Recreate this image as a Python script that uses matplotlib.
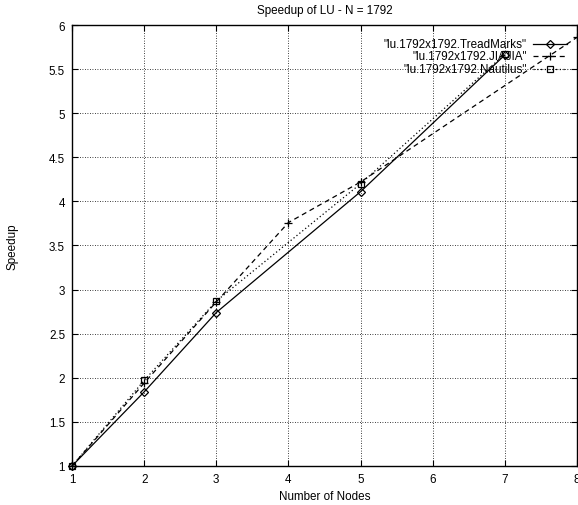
import matplotlib
matplotlib.use("Agg")
import matplotlib.pyplot as plt

plt.rcParams['font.family'] = ['Liberation Sans', 'DejaVu Sans']

# data
tm_nodes = [1, 2, 3, 5, 7]
tm_speedup = [1.0, 1.84, 2.74, 4.11, 5.66]

jia_nodes = [1, 2, 3, 4, 5, 8]
jia_speedup = [1.0, 1.94, 2.86, 3.76, 4.22, 5.86]

nau_nodes = [1, 2, 3, 5, 7]
nau_speedup = [1.0, 1.97, 2.87, 4.20, 5.67]

labels = ['"lu.1792x1792.TreadMarks"', '"lu.1792x1792.JIAJIA"', '"lu.1792x1792.Nautilus"']

fs = 8.4

fig = plt.figure(figsize=(5.78, 5.06), dpi=100)
ax = fig.add_axes([0.1246, 0.0771, 0.8736, 0.8715])

series = [
    (tm_nodes, tm_speedup, '-', 'D', 3.8),
    (jia_nodes, jia_speedup, (0, (4, 3)), '+', 6.0),
    (nau_nodes, nau_speedup, (0, (1, 2)), 's', 4.5),
]

for (xs, ys, ls, mk, ms) in series:
    ax.plot(xs, ys, color='black', linestyle=ls, linewidth=0.9,
            marker=mk, markersize=ms, markerfacecolor='none',
            markeredgecolor='black', markeredgewidth=0.9, clip_on=False)

# gnuplot-style key: right aligned text, sample line after it
key_y = [0.957, 0.929, 0.901]
for (xs, ys, ls, mk, ms), lab, ky in zip(series, labels, key_y):
    ax.text(0.901, ky, lab, transform=ax.transAxes, ha='right', va='center',
            fontsize=fs)
    ax.plot([0.913, 0.980], [ky, ky], transform=ax.transAxes, color='black',
            linestyle=ls, linewidth=0.9)
    ax.plot([0.947], [ky], transform=ax.transAxes, color='black',
            marker=mk, markersize=ms, markerfacecolor='none',
            markeredgewidth=0.9)

ax.set_xlim(1, 8)
ax.set_ylim(1, 6)
ax.set_xticks(range(1, 9))
ax.set_yticks([1, 1.5, 2, 2.5, 3, 3.5, 4, 4.5, 5, 5.5, 6])
ax.set_yticklabels(['1', '1.5', '2', '2.5', '3', '3.5', '4', '4.5', '5', '5.5', '6'])
ax.tick_params(direction='in', length=4, width=0.8, top=True, right=True,
               labelsize=fs, pad=5)
ax.grid(True, color='black', linestyle=(0, (1, 2)), linewidth=0.6)
for sp in ax.spines.values():
    sp.set_linewidth(1.0)

ax.set_title('Speedup of LU - N = 1792', fontsize=fs, pad=9)
ax.set_xlabel('Number of Nodes', fontsize=fs, labelpad=4)
ax.set_ylabel('Speedup', fontsize=fs, labelpad=22)

fig.savefig('out.png', dpi=100)
